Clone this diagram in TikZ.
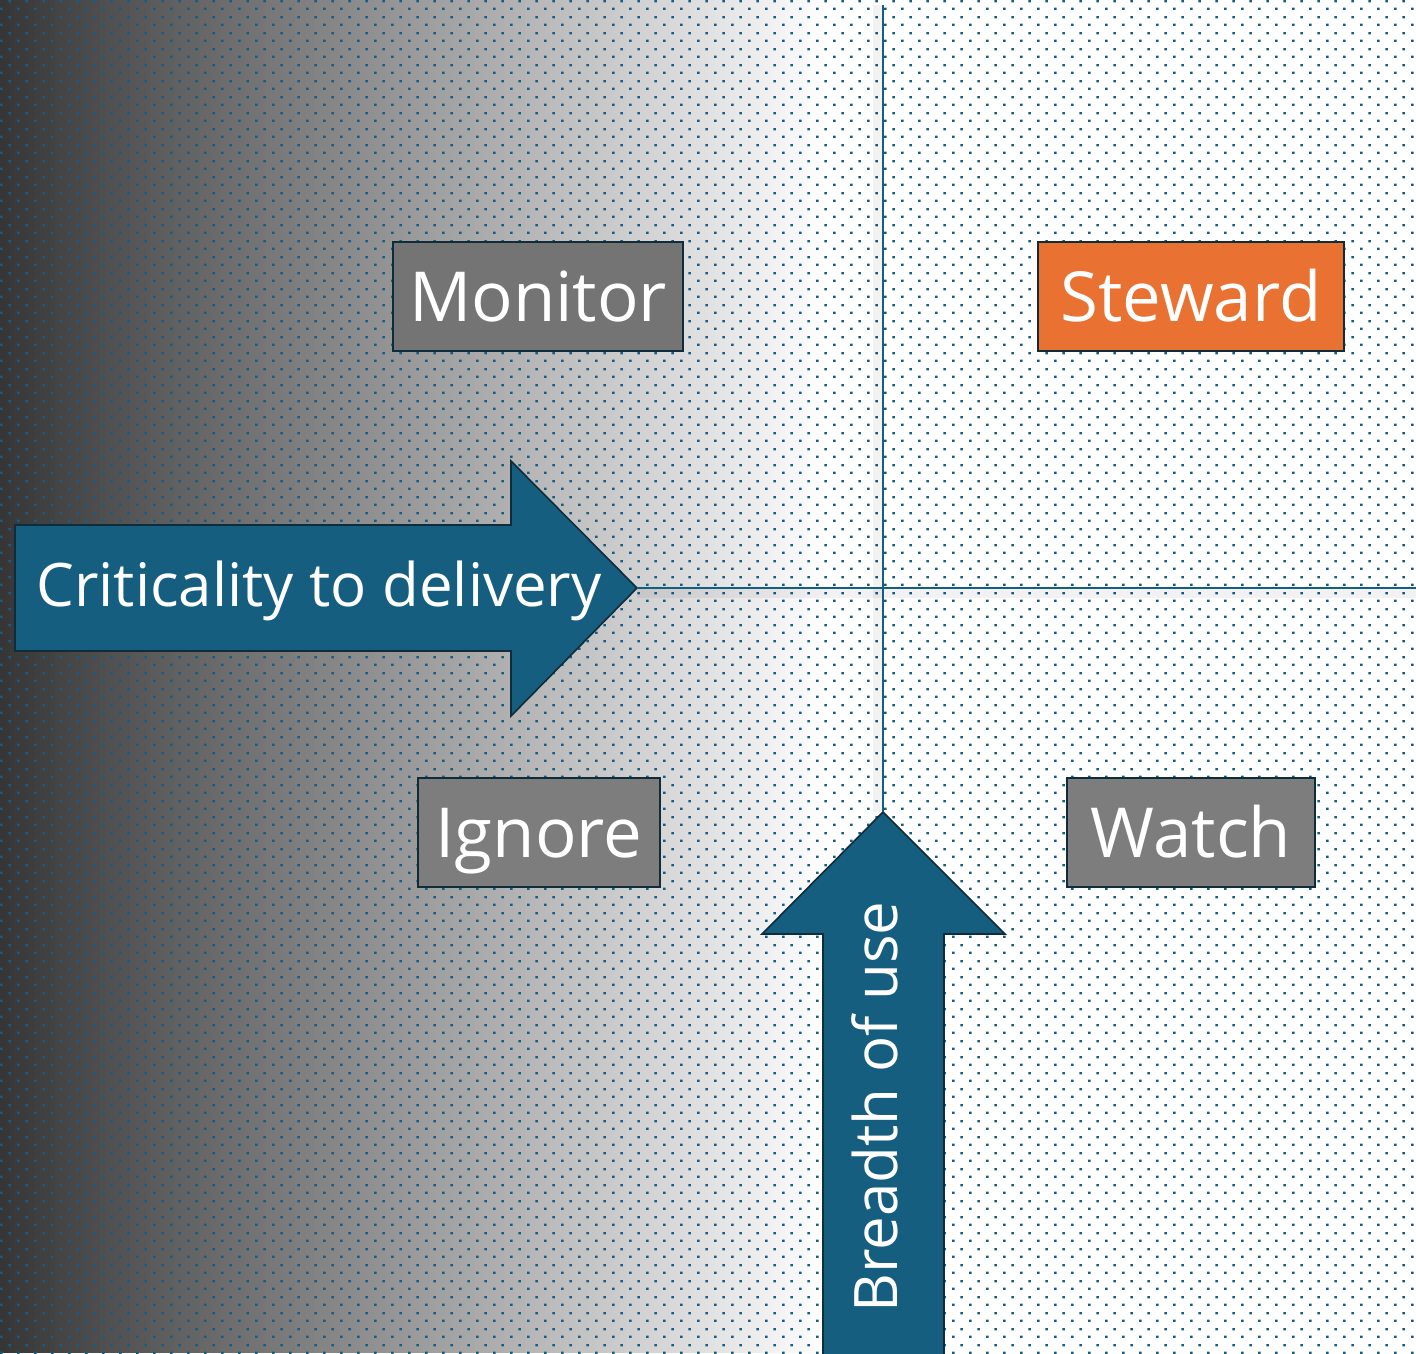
\documentclass[tikz,border=0pt]{standalone}
\usepackage{fontspec}
\setmainfont{Open Sans}
\usetikzlibrary{patterns}
\definecolor{teal}{HTML}{165E80}
\definecolor{edge}{HTML}{0F2C3B}
\definecolor{orng}{HTML}{E97132}
\definecolor{gbox}{HTML}{747474}
\definecolor{gbox2}{HTML}{7D7D7D}
\pgfdeclarepatternformonly{stagdots}{\pgfpointorigin}{\pgfpoint{16.9pt}{16pt}}{\pgfpoint{16.9pt}{16pt}}{%
  \pgfpathrectangle{\pgfpoint{0pt}{0pt}}{\pgfpoint{2.6pt}{2.6pt}}%
  \pgfpathrectangle{\pgfpoint{8.45pt}{8pt}}{\pgfpoint{2.6pt}{2.6pt}}%
  \pgfusepath{fill}}
\tikzset{
  quad/.style={draw=edge,line width=1.6pt,text=white,minimum height=109pt,inner sep=0pt,
    font=\fontsize{69}{70}\selectfont,text height=49.3pt,text depth=0pt},
  axisarrow/.style={fill=teal,draw=edge,line width=1.6pt},
  axislabel/.style={text=white,font=\fontsize{60}{62}\selectfont,inner sep=0pt,
    text height=42.8pt,text depth=0pt},
  axisline/.style={draw=teal,line width=2.2pt},
  shade line/.style={draw=black,opacity=0.05,line width=10pt}
}
\begin{document}
\begin{tikzpicture}[x=1pt,y=-1pt]
\useasboundingbox (0,0) rectangle (1416,1353);
% background gradient (linear, stepped)
\fill[white] (0,0) rectangle (1416,1353);
\foreach \i in {0,...,165}{
  \pgfmathsetmacro{\xa}{\i*5}
  \pgfmathsetmacro{\lev}{max(0,79-(\xa+2.5)*0.0951807)}
  \fill[black!\lev] (\xa,0) rectangle (\xa+5.6,1353);
}
\fill[pattern=stagdots,pattern color=teal] (0,0) rectangle (1416,1353);
% named points
\coordinate (top) at (883,5);
\coordinate (right) at (1416,588);
% right arrow
\draw[axisarrow] (15,525) -- (511,525) -- (511,461) -- (637,588) -- (511,716) -- (511,651) -- (15,651) -- cycle;
\coordinate (htip) at (637,588);
% up arrow
\draw[axisarrow] (823,1360) -- (823,934) -- (762,934) -- (883,812) -- (1005,934) -- (944,934) -- (944,1360);
\coordinate (vtip) at (883,812);
% axis lines with faint shadows
\draw[shade line] ([yshift=-5pt]htip) -- ([yshift=-5pt]right);
\draw[shade line] ([xshift=-5pt]vtip) -- ([xshift=-5pt]top);
\draw[axisline] (htip) -- (right);
\draw[axisline] (vtip) -- (top);
% axis labels
\node[axislabel] (crit) at (319,585) {Criticality to delivery};
\node[axislabel,rotate=90] (breadth) at (876,1107) {Breadth of use};
% quadrant boxes
\node[quad,fill=gbox,minimum width=290pt] (monitor) at (538,296.5) {Monitor};
\node[quad,fill=orng,minimum width=306pt] (steward) at (1191,296.5) {Steward};
\node[quad,fill=gbox2,minimum width=242pt] (ignore) at (539,832.5) {Ignore};
\node[quad,fill=gbox2,minimum width=248pt] (watch) at (1191,832.5) {Watch};
\end{tikzpicture}
\end{document}
